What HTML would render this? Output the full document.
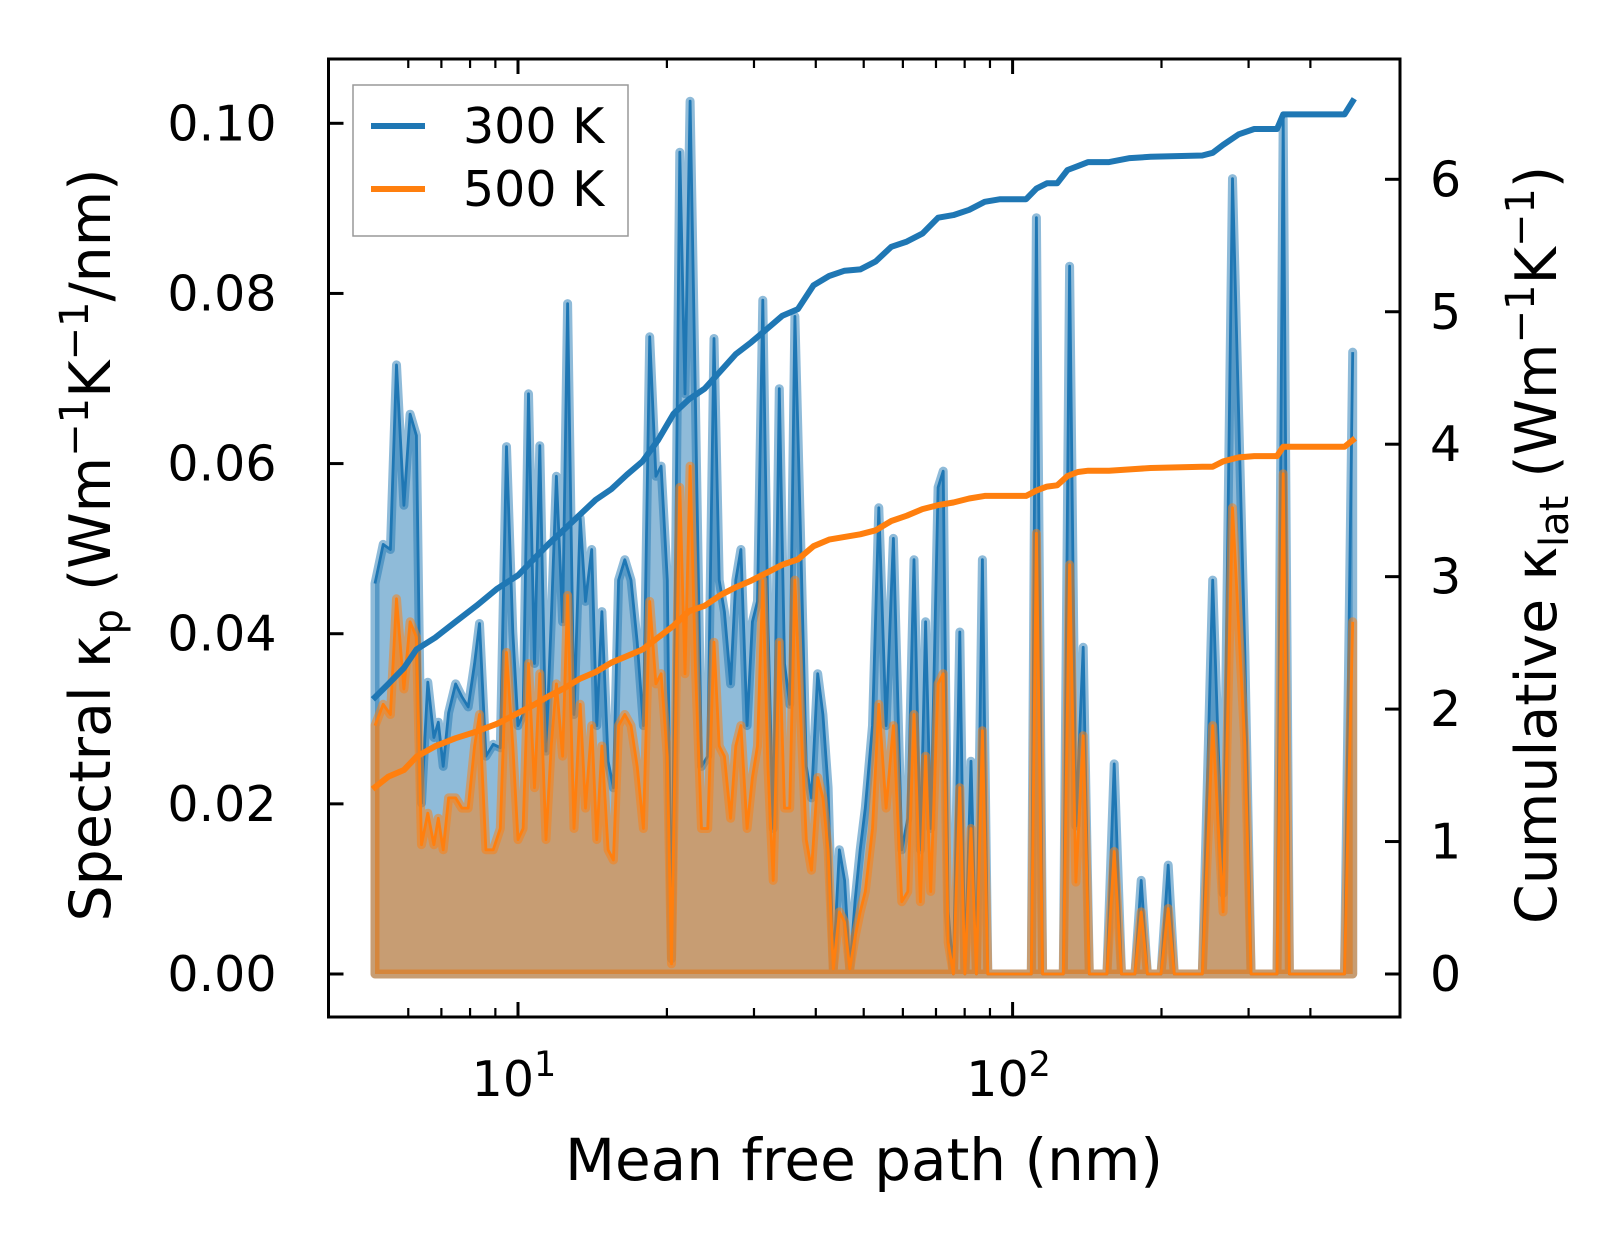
<!DOCTYPE html>
<html><head><meta charset="utf-8"><style>
html,body{margin:0;padding:0;background:#fff;}
svg{display:block;font-family:"DejaVu Sans","Liberation Sans",sans-serif;}
</style></head><body>
<svg id="chart" width="1623" height="1254" viewBox="0 0 1623 1254" xmlns="http://www.w3.org/2000/svg">
<rect x="0" y="0" width="1623" height="1254" fill="#fff"/>
<defs><clipPath id="clip"><rect x="328.5" y="59" width="1071.5" height="958"/></clipPath></defs>
<g id="plot" clip-path="url(#clip)"></g>
<g id="axes"></g>
</svg>
<script>
const mfp=[5.14,5.34,5.52,5.68,5.88,6.05,6.23,6.38,6.57,6.76,6.90,7.06,7.24,7.48,7.70,7.93,8.17,8.36,8.61,8.91,9.21,9.48,9.76,10.0,10.24,10.5,10.8,11.07,11.39,11.67,11.96,12.31,12.6,12.98,13.36,13.69,14.09,14.43,14.78,15.21,15.59,15.97,16.44,16.92,17.42,17.93,18.46,19.0,19.47,20.04,20.43,20.93,21.24,21.76,22.28,22.83,23.5,24.19,24.9,25.51,26.14,26.9,27.56,28.23,29.06,29.78,30.5,31.25,32.01,32.8,33.76,34.58,35.43,36.29,37.18,38.27,39.21,40.36,41.35,42.36,43.39,44.66,45.75,46.87,48.01,49.18,50.38,52.1,53.65,55.5,57.4,59.7,61.4,63.2,65.1,66.7,68.3,70.7,72.4,74.1,75.9,78.2,80.1,82.4,84.5,86.9,89.1,92.1,109.1,111.7,115.0,126.6,130.4,134.3,138.9,142.9,155.1,160.5,166.0,176.7,182,187.3,199.5,206.3,212.3,241.9,253.9,266.5,278.3,294.9,303.5,342.4,352.5,362.8,468.8,487.1];
const spec300=[45.9,50.5,49.9,71.6,55.1,65.8,63.3,20.1,34.3,27.8,29.6,24.4,30.7,34.1,32.6,31.4,36.5,41.2,25.6,27.0,26.6,62.0,40.2,29.2,30.5,68.2,36.5,62.1,26.2,41.4,58.5,41.4,78.8,30.5,53.6,43.8,49.9,29.2,42.6,25.0,21.9,46.3,48.7,46.3,39.0,29.2,74.9,58.5,59.7,46.3,1.8,60.9,96.6,68.2,102.6,68.2,24.4,25.6,74.7,46.3,42.6,34.1,46.3,49.9,29.2,41.4,43.8,79.2,41.4,17.1,68.8,36.5,31.7,77.3,53.6,24.4,20.7,35.3,30.5,21.9,0.6,14.6,11.0,0.6,8.5,14.6,19.5,29.2,54.8,29.2,51.2,14.6,18.3,48.7,14.6,41.4,17.1,57.2,59.1,7.3,0,40.2,0,25.0,0,48.7,0,0,0,88.9,0,0,83.2,17.4,38.4,0,0,24.7,0,0,11.0,0,0,12.8,0,0,46.3,9.5,93.5,37.5,0,0,100.5,0,0,73.1];
const spec500=[29.2,31.7,30.5,44.1,33.5,41.4,39.6,15.2,18.9,15.2,18.3,14.6,20.7,20.7,19.5,19.5,26.8,30.5,14.6,14.6,17.1,37.8,26.8,15.8,17.1,36.5,21.9,35.3,15.8,26.8,34.1,25.6,44.5,17.1,31.7,19.5,29.2,15.8,26.8,14.6,13.4,29.2,30.5,29.2,24.4,17.1,43.8,34.1,35.3,25.6,1.2,37.8,57.2,35.3,59.7,36.5,17.1,17.1,39.0,26.8,25.6,18.3,26.8,29.2,17.1,23.1,26.8,46.3,24.4,11.0,39.0,19.5,19.5,46.3,31.7,15.8,12.2,23.1,20.7,14.6,0.6,7.3,6.1,0.6,4.3,7.3,9.7,17.1,31.7,19.5,29.2,8.5,9.7,30.5,8.5,25.6,9.7,34.1,35.3,3.7,0,21.9,0,17.1,0,28.6,0,0,0,51.8,0,0,48.1,10.8,28.0,0,0,14.4,0,0,7.3,0,0,7.7,0,0,29.2,7.3,54.8,26.8,0,0,58.8,0,0,41.4];
const cumMfp=[5.14,5.47,5.88,6.23,6.80,7.48,8.24,9.08,10.0,10.75,11.56,12.43,13.36,14.36,15.44,16.60,17.85,19.19,20.63,22.18,23.85,25.64,27.56,29.63,31.86,34.25,36.81,39.58,42.56,45.75,49.18,52.87,56.84,61.1,65.7,70.7,75.9,81.7,87.8,94.4,106.5,111.7,117.3,123.1,129.1,135.5,142.2,156.7,172.6,190.0,241.9,253.9,266.5,286.5,307.9,342.4,352.5,468.8,487.1];
const cum300=[2.09,2.19,2.31,2.45,2.54,2.66,2.78,2.91,3.01,3.13,3.25,3.36,3.47,3.58,3.66,3.77,3.87,4.03,4.23,4.34,4.42,4.55,4.68,4.77,4.87,4.97,5.02,5.20,5.27,5.31,5.32,5.38,5.49,5.53,5.59,5.71,5.73,5.77,5.83,5.85,5.85,5.93,5.97,5.97,6.07,6.10,6.13,6.13,6.16,6.17,6.18,6.20,6.26,6.34,6.38,6.38,6.49,6.49,6.59];
const cum500=[1.41,1.49,1.54,1.64,1.72,1.78,1.83,1.89,1.97,2.03,2.10,2.16,2.23,2.28,2.35,2.40,2.45,2.54,2.63,2.74,2.78,2.86,2.92,2.97,3.03,3.09,3.13,3.23,3.28,3.30,3.32,3.35,3.42,3.46,3.51,3.54,3.56,3.59,3.61,3.61,3.61,3.65,3.68,3.69,3.76,3.79,3.80,3.80,3.81,3.82,3.83,3.83,3.87,3.90,3.91,3.91,3.98,3.98,4.03];
const leftTicks=["0.00","0.02","0.04","0.06","0.08","0.10"];
const leftTickVals=[0,0.02,0.04,0.06,0.08,0.10];
const rightTicks=["0","1","2","3","4","5","6"];
const xMajor=[10,100];
const xMinor=[6,7,8,9,20,30,40,50,60,70,80,90,200,300,400];

const NS="http://www.w3.org/2000/svg";
const X0=328.5,X1=1400,Y0=59,Y1=1017;
function sx(m){return 518+(Math.log10(m)-1)*494.6;}
function syL(v){return 974-v*8507;}
function syR(c){return 974-c*132.45;}
function mk(tag,attrs,parent){const e=document.createElementNS(NS,tag);for(const k in attrs)e.setAttribute(k,attrs[k]);parent.appendChild(e);return e;}
const plot=document.getElementById('plot'),axes=document.getElementById('axes');

function spectral(vals,color,name){
  const pts=mfp.map((m,i)=>[sx(m),syL(vals[i]/1000)]);
  const line=pts.map(p=>p[0].toFixed(1)+','+p[1].toFixed(1)).join(' ');
  const area='M'+pts[0][0].toFixed(1)+','+syL(0)+' L'+line.split(' ').join(' L')+' L'+pts[pts.length-1][0].toFixed(1)+','+syL(0)+' Z';
  const f=mk('path',{d:area,fill:color,'fill-opacity':0.5,stroke:color,'stroke-opacity':0.5,'stroke-width':9,'stroke-linejoin':'round'},plot);
  
  
  const l=mk('polyline',{points:line,fill:'none',stroke:color,'stroke-width':2.8,'stroke-linejoin':'round'},plot);
  
  
}
spectral(spec300,'#1f77b4','spectral-300k');
spectral(spec500,'#ff7f0e','spectral-500k');
function cumLine(vals,color,name){
  const line=cumMfp.map((m,i)=>sx(m).toFixed(1)+','+syR(vals[i]).toFixed(1)).join(' ');
  const l=mk('polyline',{points:line,fill:'none',stroke:color,'stroke-width':6,'stroke-linejoin':'round','stroke-linecap':'square'},plot);
  
  
}
cumLine(cum300,'#1f77b4','cumulative-300k');
cumLine(cum500,'#ff7f0e','cumulative-500k');

const fr=mk('rect',{x:X0,y:Y0,width:X1-X0,height:Y1-Y0,fill:'none',stroke:'#000','stroke-width':3},axes);


leftTickVals.forEach((v,i)=>{
  const y=syL(v);
  const t=mk('line',{x1:X0,x2:X0+15,y1:y,y2:y,stroke:'#000','stroke-width':3},axes);
  
  
  const tx=mk('text',{x:X0-52,y:y+17,'text-anchor':'end','font-size':49,fill:'#000'},axes);
  tx.textContent=leftTicks[i];
  
  
});
rightTicks.forEach((s,i)=>{
  const y=syR(+s);
  const t=mk('line',{x1:X1-15,x2:X1,y1:y,y2:y,stroke:'#000','stroke-width':3},axes);
  
  
  const tx=mk('text',{x:X1+30,y:y+17,'text-anchor':'start','font-size':49,fill:'#000'},axes);
  tx.textContent=s;
  
  
});
xMajor.forEach((m,i)=>{
  const x=sx(m);
  [[Y1,Y1-15],[Y0,Y0+15]].forEach(p=>{
    const t=mk('line',{x1:x,x2:x,y1:p[0],y2:p[1],stroke:'#000','stroke-width':3},axes);
    
    
  });
  const tx=mk('text',{x:x-4,y:1096,'text-anchor':'middle','font-size':49,fill:'#000'},axes);
  
  
  tx.textContent='10';
  const sp=mk('tspan',{dy:-20,'font-size':35},tx);
  sp.textContent=String(i+1);
});
xMinor.forEach(m=>{
  const x=sx(m);
  [[Y1,Y1-9],[Y0,Y0+9]].forEach(p=>{
    const t=mk('line',{x1:x,x2:x,y1:p[0],y2:p[1],stroke:'#000','stroke-width':2.2},axes);
    
    
  });
});
</script>
<div style="position:absolute;left:0;top:0;width:1623px;height:1254px;pointer-events:none">
<svg width="1623" height="1254" style="position:absolute;left:0;top:0">
<g font-family="DejaVu Sans, Liberation Sans, sans-serif" fill="#000">
<text x="864" y="1180" text-anchor="middle" font-size="58">Mean free path (nm)</text>
<text transform="translate(110,545) rotate(-90)" text-anchor="middle" font-size="57">Spectral κ<tspan font-size="40" dy="12">p</tspan><tspan dy="-12"> (Wm</tspan><tspan font-size="40" dy="-22">−1</tspan><tspan dy="22">K</tspan><tspan font-size="40" dy="-22">−1</tspan><tspan dy="22">/nm)</tspan></text>
<text transform="translate(1556,545) rotate(-90)" text-anchor="middle" font-size="57">Cumulative κ<tspan font-size="40" dy="12">lat</tspan><tspan dy="-12"> (Wm</tspan><tspan font-size="40" dy="-22">−1</tspan><tspan dy="22">K</tspan><tspan font-size="40" dy="-22">−1</tspan><tspan dy="22">)</tspan></text>
</g>
<g>
<rect x="353" y="85" width="275" height="151" fill="#fff" fill-opacity="0.8" stroke="#999" stroke-width="1.5"/>
<line x1="371" x2="425" y1="126" y2="126" stroke="#1f77b4" stroke-width="6"/>
<text x="463" y="143" font-size="49" font-family="DejaVu Sans, Liberation Sans, sans-serif">300 K</text>
<line x1="371" x2="425" y1="189" y2="189" stroke="#ff7f0e" stroke-width="6"/>
<text x="463" y="206" font-size="49" font-family="DejaVu Sans, Liberation Sans, sans-serif">500 K</text>
</g>
</svg>
</div>
</body></html>
